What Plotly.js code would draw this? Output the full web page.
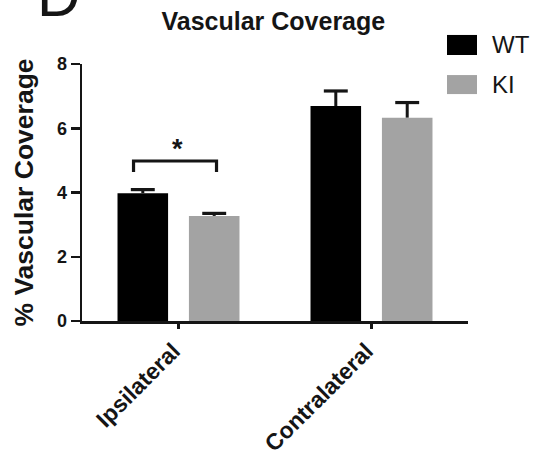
<!DOCTYPE html>
<html>
<head>
<meta charset="utf-8">
<script src="https://cdn.plot.ly/plotly-3.0.1.min.js"></script>
<style>
  html, body { margin: 0; padding: 0; background: #fff; }
  #chart { width: 537px; height: 459px; }
</style>
</head>
<body>
<div id="chart"></div>
<script>
// ---- data ----
const categories = ["Ipsilateral", "Contralateral"];
const seriesNames = ["WT", "KI"];
const wtValues = [3.98, 6.69];
const wtErrors = [0.11, 0.47];
const kiValues = [3.27, 6.33];
const kiErrors = [0.08, 0.47];
const yTicks = [0, 2, 4, 6, 8];
const sigLabel = "*";

// ---- styling ----
const FONT = '"Liberation Sans", Arial, Helvetica, sans-serif';
const INK = '#151515';
const colors = ['#000000', '#a3a3a3'];
const barWidth = 0.262;
const offsets = [-0.316, 0.054];

const values = [wtValues, kiValues];
const errors = [wtErrors, kiErrors];

const traces = values.map((vals, s) => ({
  type: 'bar',
  name: seriesNames[s],
  x: categories,
  y: vals,
  width: categories.map(() => barWidth),
  offset: categories.map(() => offsets[s]),
  marker: { color: colors[s], line: { width: 0 } },
  hoverinfo: 'skip',
  showlegend: false
}));

const shapes = [];
const capHalf = 0.062;
values.forEach((vals, s) => {
  vals.forEach((v, i) => {
    const cx = i + offsets[s] + barWidth / 2;
    const top = v + errors[s][i];
    shapes.push({ type: 'line', xref: 'x', yref: 'y', x0: cx, x1: cx, y0: v, y1: top,
                  line: { color: INK, width: 3 } });
    shapes.push({ type: 'line', xref: 'x', yref: 'y', x0: cx - capHalf, x1: cx + capHalf, y0: top, y1: top,
                  line: { color: INK, width: 3.2 } });
  });
});

// significance bracket over Ipsilateral
shapes.push({ type: 'path', xref: 'x', yref: 'y',
  path: 'M -0.233,4.64 L -0.233,4.98 L 0.197,4.98 L 0.197,4.64',
  line: { color: INK, width: 3.2 } });

// custom legend boxes (paper coords)
const legendY = [[1.113, 1.035], [0.957, 0.883]];
legendY.forEach((yy, s) => {
  shapes.push({ type: 'rect', xref: 'paper', yref: 'paper',
    x0: 0.9456, x1: 1.0233, y0: yy[1], y1: yy[0],
    fillcolor: colors[s], line: { width: 0 } });
});

const annotations = [
  { xref: 'x', yref: 'y', x: -0.005, y: 5.36, text: sigLabel, showarrow: false,
    font: { family: FONT, size: 27, color: INK, weight: 'bold' }, xanchor: 'center', yanchor: 'middle' },
  { xref: 'paper', yref: 'paper', x: -0.122, y: 1.2646, text: 'D', showarrow: false,
    font: { family: FONT, size: 60, color: INK }, xanchor: 'left', yanchor: 'middle' }
];
seriesNames.forEach((n, s) => {
  annotations.push({ xref: 'paper', yref: 'paper', x: 1.058, y: (legendY[s][0] + legendY[s][1]) / 2,
    text: n, showarrow: false, xanchor: 'left', yanchor: 'middle',
    font: { family: FONT, size: 24, color: INK } });
});

const layout = {
  width: 537, height: 459,
  margin: { l: 82, r: 69, t: 64, b: 138 },
  paper_bgcolor: '#ffffff', plot_bgcolor: '#ffffff',
  font: { family: FONT, color: INK },
  showlegend: false,
  barmode: 'group',
  title: { text: 'Vascular Coverage', x: 0.509, xref: 'container', xanchor: 'center',
           y: 0.954, yref: 'container', yanchor: 'middle',
           font: { family: FONT, size: 25, color: INK, weight: 'bold' } },
  xaxis: {
    type: 'category', range: [-0.5, 1.5],
    showline: true, linecolor: INK, linewidth: 2.5,
    showgrid: false, zeroline: false,
    ticks: 'outside', ticklen: 5, tickwidth: 2.5, tickcolor: INK,
    tickangle: -45,
    ticklabelshift: -5,
    tickfont: { family: FONT, size: 23, color: INK, weight: 'bold' },
    fixedrange: true
  },
  yaxis: {
    range: [0, 8],
    tickvals: yTicks, ticktext: yTicks.map(String),
    showline: true, linecolor: INK, linewidth: 2.5,
    showgrid: false, zeroline: false,
    ticks: 'outside', ticklen: 9, tickwidth: 2.5, tickcolor: INK,
    tickfont: { family: FONT, size: 18, color: INK, weight: 'bold' },
    title: { text: '% Vascular Coverage', standoff: 16,
             font: { family: FONT, size: 26.5, color: INK, weight: 'bold' } },
    fixedrange: true
  },
  shapes: shapes,
  annotations: annotations
};

Plotly.newPlot('chart', traces, layout, { displayModeBar: false, staticPlot: true });
</script>
</body>
</html>
